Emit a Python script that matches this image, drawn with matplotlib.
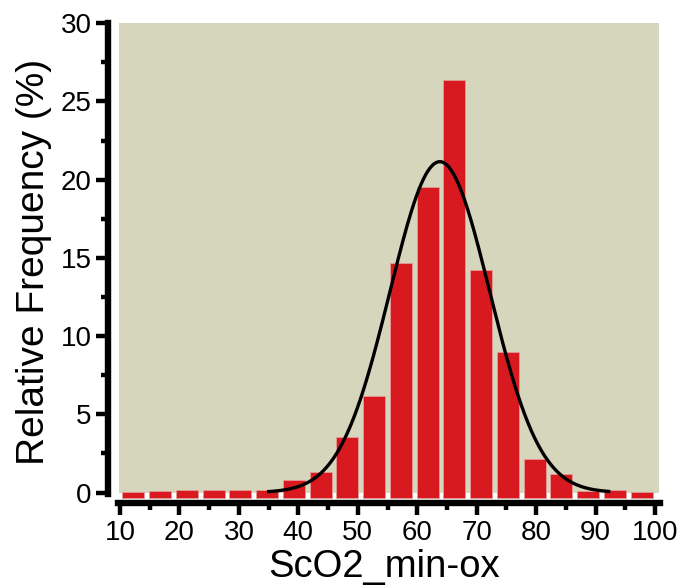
import numpy as np
import matplotlib
matplotlib.use('Agg')
import matplotlib.pyplot as plt
from matplotlib.patches import Rectangle
from matplotlib.ticker import MultipleLocator

plt.rcParams['font.family'] = ['Liberation Sans', 'DejaVu Sans']

# histogram: bins of 4.5 from 10 to 100
bin_edges = np.linspace(10, 100, 21)
freq = [0.05, 0.1, 0.17, 0.17, 0.17, 0.17, 0.8, 1.29, 3.57, 6.2,
        14.65, 19.5, 26.4, 14.23, 9.0, 2.12, 1.18, 0.1, 0.16, 0.05]

# fitted normal curve
fit_mu = 63.8
fit_sigma = 8.4
fit_peak = 21.15
fit_x0, fit_x1 = 35.0, 92.2

bar_base = -0.37
red = '#D81920'
tan = '#D6D6BC'

fig = plt.figure(figsize=(6.81, 5.88), dpi=100)
ax = fig.add_axes([0.1579, 0.1451, 0.9706 - 0.1579, 0.9631 - 0.1451])
ax.set_xlim(7.9, 101.0)
ax.set_ylim(-0.65, 30.1)

ax.add_patch(Rectangle((9.85, 0), 100.7 - 9.85, 30, facecolor=tan,
                       edgecolor='none', zorder=0))

centers = (bin_edges[:-1] + bin_edges[1:]) / 2
heights = np.array(freq) - bar_base
ax.bar(centers, heights, width=3.7, bottom=bar_base, color=red,
       edgecolor='#E49A98', linewidth=0.6, zorder=2)

xs = np.linspace(fit_x0, fit_x1, 300)
ys = fit_peak * np.exp(-(xs - fit_mu) ** 2 / (2 * fit_sigma ** 2))
ax.plot(xs, ys, color='black', lw=2.4, zorder=3)

for s in ['top', 'right']:
    ax.spines[s].set_visible(False)
ax.spines['left'].set_linewidth(4.6)
ax.spines['bottom'].set_linewidth(4.6)
ax.spines['left'].set_bounds(-0.1, 30)
ax.spines['bottom'].set_bounds(9.6, 100.8)

ax.xaxis.set_major_locator(MultipleLocator(10))
ax.xaxis.set_minor_locator(MultipleLocator(5))
ax.yaxis.set_major_locator(MultipleLocator(5))
ax.yaxis.set_minor_locator(MultipleLocator(2.5))
ax.set_xticks(np.arange(10, 101, 10))
ax.set_yticks(np.arange(0, 31, 5))

ax.tick_params(axis='both', which='major', direction='out', length=8.5,
               width=3.2, labelsize=20, color='black')
ax.tick_params(axis='both', which='minor', direction='out', length=5,
               width=3.2, color='black')
ax.tick_params(axis='y', which='major', pad=3)
ax.tick_params(axis='x', which='major', pad=4)

ax.set_xlabel('ScO2_min-ox', fontsize=27.5, labelpad=2)
ax.set_ylabel('Relative Frequency (%)', fontsize=28, labelpad=6)

fig.savefig('out.png', dpi=100)
